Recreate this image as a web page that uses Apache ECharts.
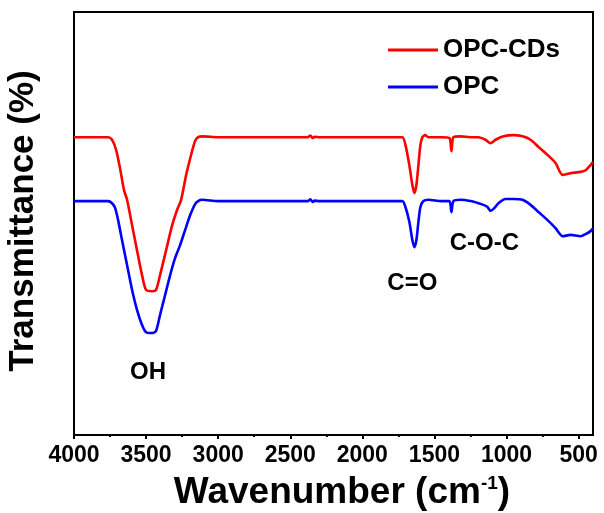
<!DOCTYPE html>
<html>
<head>
<meta charset="utf-8">
<title>FTIR spectra of OPC and OPC-CDs</title>
<script src="https://cdn.jsdelivr.net/npm/echarts@6/dist/echarts.min.js"></script>
<style>
  html, body { margin: 0; padding: 0; background: #ffffff; }
  #chart { width: 604px; height: 513px; }
</style>
</head>
<body>
<div id="chart"></div>
<script>
// FTIR transmittance (arbitrary offset units) versus wavenumber (cm-1)
const seriesNames = ['OPC-CDs', 'OPC'];

const opcCdsSpectrum = [
  [4000, 70.4], [3800, 70.4], [3764, 70.4], [3736, 69.8], [3708, 67.4], [3681, 63.1],
  [3653, 57.9], [3632, 55.6], [3597, 49.6], [3563, 43.7], [3528, 37.8], [3500, 34.3],
  [3458, 34.0], [3431, 34.3], [3403, 37.8], [3361, 43.7], [3319, 49.6], [3285, 53.2],
  [3257, 55.6], [3222, 61.5], [3188, 66.2], [3160, 69.5], [3139, 70.4], [3111, 70.6],
  [3000, 70.4], [2800, 70.4], [2600, 70.4], [2380, 70.4], [2360, 70.8], [2345, 70.2],
  [2330, 70.5], [2300, 70.4], [2000, 70.4], [1800, 70.4], [1722, 70.4], [1701, 68.6],
  [1674, 63.8], [1653, 59.1], [1639, 57.2], [1625, 59.1], [1611, 63.8], [1597, 68.6],
  [1583, 70.4], [1563, 70.9], [1542, 70.4], [1450, 70.4], [1396, 70.2], [1382, 67.1],
  [1368, 70.4], [1319, 70.6], [1250, 70.4], [1194, 70.4], [1146, 69.8], [1111, 69.0],
  [1076, 69.8], [1021, 70.6], [951, 70.9], [889, 70.6], [833, 69.8], [778, 68.1],
  [715, 66.2], [660, 64.3], [611, 61.5], [556, 61.9], [486, 62.2], [451, 62.6],
  [417, 63.8], [400, 64.5]
];

const opcSpectrum = [
  [4000, 55.3], [3800, 55.3], [3764, 55.3], [3736, 54.8], [3715, 53.7], [3694, 50.8],
  [3667, 46.1], [3632, 40.2], [3597, 34.3], [3563, 29.6], [3528, 26.0], [3500, 24.3],
  [3458, 24.1], [3431, 24.6], [3403, 28.4], [3368, 33.1], [3333, 37.8], [3299, 41.8],
  [3264, 44.9], [3229, 48.5], [3194, 52.0], [3160, 54.6], [3139, 55.3], [3111, 55.6],
  [3000, 55.3], [2800, 55.3], [2600, 55.3], [2380, 55.3], [2360, 55.7], [2345, 55.1],
  [2330, 55.4], [2300, 55.3], [2000, 55.3], [1800, 55.3], [1722, 55.3], [1701, 53.9],
  [1674, 50.4], [1653, 46.1], [1639, 44.4], [1625, 46.1], [1611, 50.4], [1597, 53.9],
  [1576, 55.3], [1542, 55.6], [1450, 55.3], [1396, 55.3], [1382, 52.7], [1368, 55.3],
  [1319, 55.6], [1250, 55.3], [1194, 54.8], [1160, 54.4], [1132, 53.9], [1111, 53.0],
  [1083, 53.7], [1056, 54.8], [1007, 55.8], [951, 55.8], [889, 55.6], [833, 54.4],
  [778, 52.7], [715, 50.8], [660, 48.9], [611, 47.0], [556, 47.3], [486, 47.0],
  [451, 47.5], [417, 48.2], [400, 48.9]
];

const majorTicks = [4000, 3500, 3000, 2500, 2000, 1500, 1000, 500];
const minorTicks = [3750, 3250, 2750, 2250, 1750, 1250, 750];

// Band assignments: [label, wavenumber, transmittance]
const bandLabels = [
  ['OH', 3486, 14.7],
  ['C=O', 1653, 35.9],
  ['C-O-C', 1153, 45.4]
];

const FONT = '"Liberation Sans", Arial, Helvetica, sans-serif';

const chart = echarts.init(document.getElementById('chart'), null, { renderer: 'canvas' });

chart.setOption({
  backgroundColor: '#ffffff',
  animation: false,
  textStyle: { fontFamily: FONT },
  grid: {
    left: 74, right: 11, top: 12, bottom: 78,
    show: true, borderColor: '#000000', borderWidth: 2, backgroundColor: 'transparent'
  },
  legend: {
    orient: 'vertical',
    left: 383,
    top: 30,
    itemWidth: 50,
    itemHeight: 3,
    itemGap: 7,
    icon: 'rect',
    textStyle: { fontFamily: FONT, fontSize: 26, fontWeight: 'bold', color: '#000000', lineHeight: 30 },
    data: seriesNames
  },
  xAxis: [
    {
      type: 'value',
      inverse: true,
      min: 400,
      max: 4000,
      position: 'bottom',
      axisLine: { show: true, onZero: false, lineStyle: { color: '#000000', width: 2 } },
      axisTick: { show: true, customValues: majorTicks, length: 4, inside: false, lineStyle: { color: '#000000', width: 2 } },
      axisLabel: {
        customValues: majorTicks, margin: 9,
        formatter: v => String(v),
        fontFamily: FONT, fontSize: 23, fontWeight: 'bold', color: '#000000',
        showMinLabel: true, showMaxLabel: true
      },
      splitLine: { show: false }
    },
    {
      type: 'value',
      inverse: true,
      min: 400,
      max: 4000,
      position: 'bottom',
      axisLine: { show: false },
      axisTick: { show: true, customValues: minorTicks, length: 2, lineStyle: { color: '#000000', width: 2 } },
      axisLabel: { show: false },
      splitLine: { show: false }
    }
  ],
  yAxis: {
    type: 'value',
    min: 0,
    max: 100,
    axisLine: { show: true, onZero: false, lineStyle: { color: '#000000', width: 2 } },
    axisTick: { show: false },
    axisLabel: { show: false },
    splitLine: { show: false }
  },
  graphic: [
    {
      type: 'text',
      x: 23, y: 221,
      rotation: Math.PI / 2,
      style: {
        text: 'Transmittance (%)',
        fontFamily: FONT, fontSize: 35, fontWeight: 'bold', fill: '#000000',
        align: 'center', verticalAlign: 'middle'
      }
    },
    {
      type: 'text',
      x: 342, y: 493,
      style: {
        text: 'Wavenumber (cm{sup|-1})',
        fontFamily: FONT, fontSize: 37, fontWeight: 'bold', fill: '#000000',
        align: 'center', verticalAlign: 'middle',
        rich: {
          sup: { fontFamily: FONT, fontSize: 19, fontWeight: 'bold', fill: '#000000', verticalAlign: 'top', padding: [0, 0, 18, 0] }
        }
      }
    }
  ],
  series: [
    {
      name: seriesNames[0],
      type: 'line',
      data: opcCdsSpectrum,
      showSymbol: false,
      smooth: 0.25,
      color: '#ff0000',
      lineStyle: { color: '#ff0000', width: 2.6 },
      z: 3
    },
    {
      name: seriesNames[1],
      type: 'line',
      data: opcSpectrum,
      showSymbol: false,
      smooth: 0.25,
      color: '#0000ff',
      lineStyle: { color: '#0000ff', width: 2.6 },
      z: 2,
      markPoint: {
        symbol: 'circle',
        symbolSize: 0,
        label: {
          show: true,
          position: 'inside',
          formatter: p => p.name,
          fontFamily: FONT, fontSize: 24, fontWeight: 'bold', color: '#000000'
        },
        data: bandLabels.map(b => ({ name: b[0], coord: [b[1], b[2]] }))
      }
    }
  ]
});
</script>
</body>
</html>
